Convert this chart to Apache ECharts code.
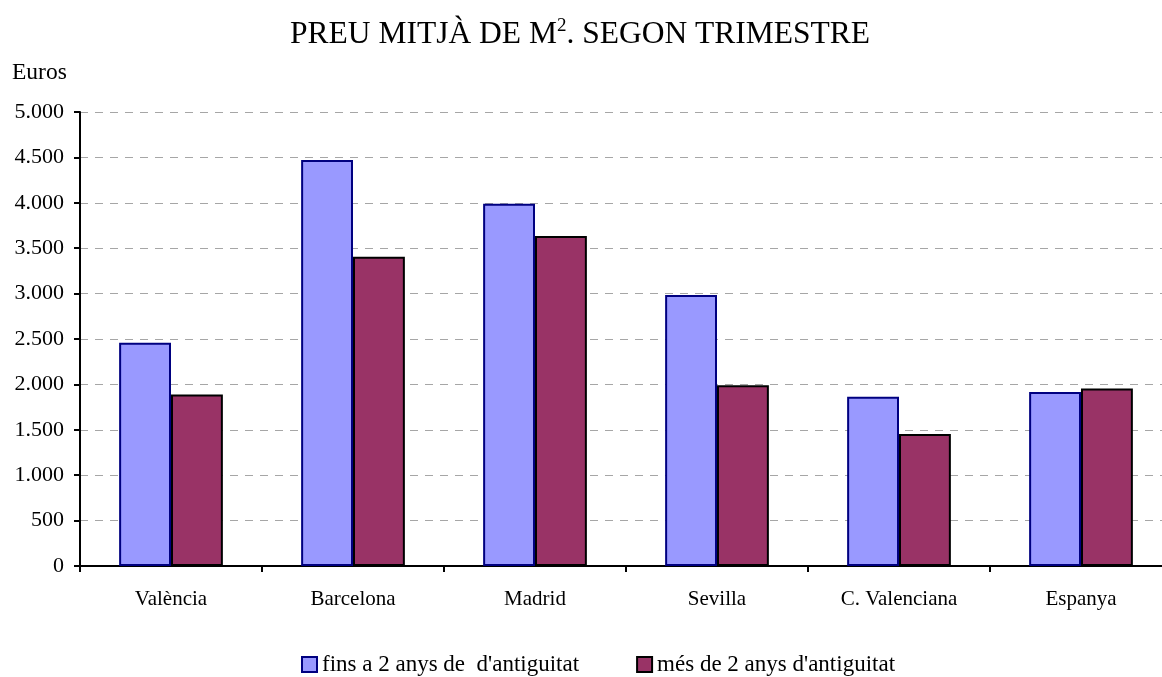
<!DOCTYPE html>
<html>
<head>
<meta charset="utf-8">
<script src="https://cdn.jsdelivr.net/npm/echarts@6/dist/echarts.min.js"></script>
<style>
  html, body { margin: 0; padding: 0; background: #fff; overflow: hidden; }
  #chart { width: 1180px; height: 677px; }
</style>
</head>
<body>
<div id="chart"></div>
<script>
const categories = ["València", "Barcelona", "Madrid", "Sevilla", "C. Valenciana", "Espanya"];
const fins2anys = [2460, 4470, 3990, 2985, 1865, 1915];
const mes2anys  = [1890, 3405, 3635, 1990, 1455, 1955];
const seriesNames = ["fins a 2 anys de  d'antiguitat", "més de 2 anys d'antiguitat"];

const FONT = "'Liberation Serif', 'Times New Roman', serif";
const fmtTick = v => String(v).replace(/\B(?=(\d{3})+(?!\d))/g, ".");

// the plot area runs a little past the visible window on the right, as in the original
const chart = echarts.init(document.getElementById("chart"));

chart.setOption({
  animation: false,
  textStyle: { fontFamily: FONT, color: "#000" },
  title: {
    text: "{t|PREU MITJÀ DE M}{s|2}{t|. SEGON TRIMESTRE}",
    left: 285,
    top: 12,
    textStyle: {
      fontWeight: "normal",
      rich: {
        t: { fontFamily: FONT, fontSize: 31.5, fontWeight: "normal", color: "#000", lineHeight: 36 },
        s: { fontFamily: FONT, fontSize: 19, fontWeight: "normal", color: "#000", verticalAlign: "top", lineHeight: 36, padding: [0, 0, 16, 0] }
      }
    }
  },
  legend: {
    top: 648,
    left: 296,
    icon: "rect",
    itemWidth: 15,
    itemHeight: 15,
    itemGap: 57,
    itemStyle: { borderWidth: 2 },
    textStyle: { fontFamily: FONT, fontSize: 23, color: "#000" },
    data: seriesNames
  },
  grid: { left: 80, right: 8, top: 112, bottom: 111, containLabel: false },
  xAxis: {
    type: "category",
    data: categories,
    axisLine: { lineStyle: { color: "#000", width: 2 } },
    axisTick: { show: true, length: 6, lineStyle: { color: "#000", width: 2 } },
    axisLabel: { fontFamily: FONT, fontSize: 21, color: "#000", margin: 23 }
  },
  yAxis: {
    type: "value",
    min: 0,
    max: 5000,
    interval: 500,
    name: "Euros",
    nameLocation: "end",
    nameGap: 27,
    nameTextStyle: { fontFamily: FONT, fontSize: 23.5, color: "#000", align: "left", padding: [0, 0, 0, -68] },
    axisLine: { show: true, lineStyle: { color: "#000", width: 2 } },
    axisTick: { show: true, length: 6, lineStyle: { color: "#000", width: 2 } },
    axisLabel: { fontFamily: FONT, fontSize: 22, color: "#000", margin: 16, formatter: fmtTick },
    splitLine: { show: true, lineStyle: { color: "#a6a6a6", type: [8, 7], width: 1 } }
  },
  series: [
    {
      name: seriesNames[0],
      type: "bar",
      data: fins2anys,
      barGap: "0%",
      barCategoryGap: "43%",
      itemStyle: { color: "#9999FF", borderColor: "#000080", borderWidth: 2 }
    },
    {
      name: seriesNames[1],
      type: "bar",
      data: mes2anys,
      itemStyle: { color: "#993366", borderColor: "#000000", borderWidth: 2 }
    }
  ]
});
</script>
</body>
</html>
